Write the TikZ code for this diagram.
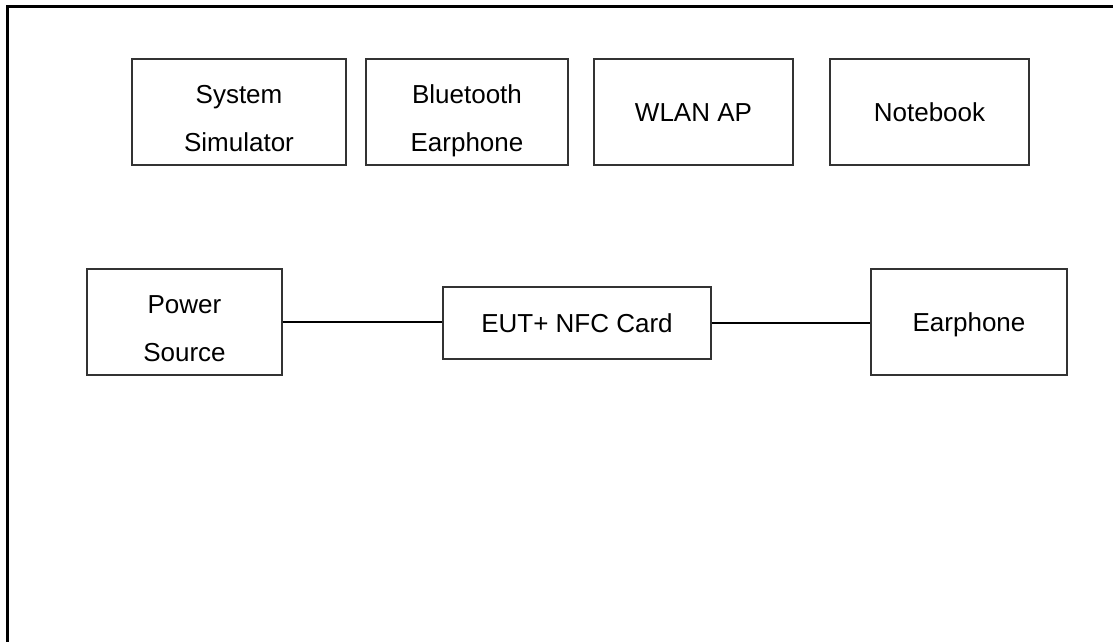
\documentclass[tikz,border=0pt]{standalone}
\usepackage{fontspec}
\setmainfont{Liberation Sans}
\usetikzlibrary{positioning}

\begin{document}
\begin{tikzpicture}[x=1pt,y=-1pt,
                    box node/.style={rectangle,draw=black!80,line width=1.2pt,align=center,
                                     minimum height=106pt,inner sep=0pt,
                                     text height=19pt,text depth=0pt,
                                     font=\fontsize{26}{48}\selectfont},
                    two lines/.style={text height=79pt},
                    link/.style={line width=1.6pt}
                   ]
  \useasboundingbox (0,0) rectangle (1113,642);
  \draw[line width=3pt] (1113,7) -| (7,642);

  % test equipment
  \node[box node,two lines,minimum width=214pt] (sim) at (239,112) {System\\Simulator};
  \node[box node,two lines,minimum width=202pt] (bt)  at (467,112) {Bluetooth\\Earphone};
  \node[box node,minimum width=199pt] (wlan) at (693.5,112) {WLAN AP};
  \node[box node,minimum width=199pt] (note) at (929.5,112) {Notebook};

  % set-up
  \node[box node,two lines,minimum width=195pt] (power) at (184.5,322) {Power\\Source};
  \node[box node,minimum width=268pt,minimum height=72pt] (eut) at (577,323) {EUT+ NFC Card};
  \node[box node,minimum width=196pt] (ear) at (969,322) {Earphone};

  \path[link]
   (power) edge (power -| eut.west)
   (eut)   edge (eut -| ear.west);
\end{tikzpicture}
\end{document}
